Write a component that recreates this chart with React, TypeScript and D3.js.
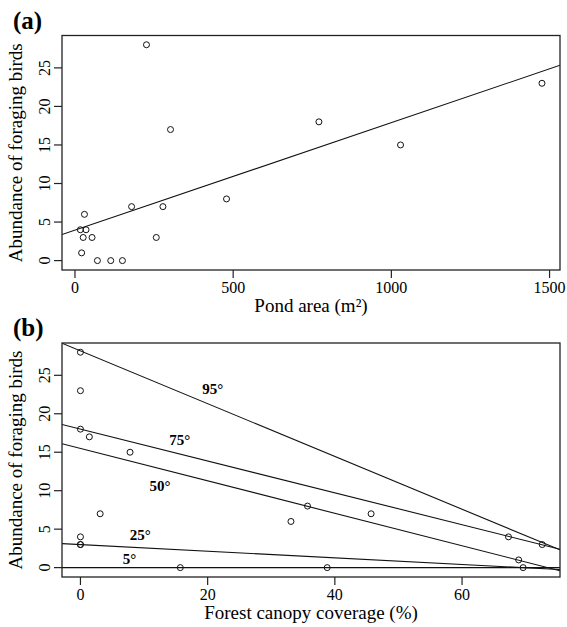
import React from 'react'
import * as d3 from 'd3'

const svgWidth = 567
const svgHeight = 627
const plotLeft = 62
const plotRight = 560
const serif = '"Liberation Serif", "Times New Roman", serif'

// panel (a): pond area vs birds
const pondArea = [226, 1476, 771, 1029, 302, 479, 179, 278, 257, 30, 17, 35, 26, 54, 21, 71, 113, 150]
const birdsA = [28, 23, 18, 15, 17, 8, 7, 7, 3, 6, 4, 4, 3, 3, 1, 0, 0, 0]
const fitIntercept = 3.95
const fitSlope = 0.01395
const xTicksA = [0, 500, 1000, 1500]

// panel (b): canopy coverage vs birds
const canopy = [0, 0, 0, 1.4, 7.8, 3.1, 0, 0, 0, 15.7, 33.1, 35.7, 38.8, 45.7, 67.3, 68.9, 69.6, 72.6]
const birdsB = [28, 23, 18, 17, 15, 7, 4, 3, 3, 0, 6, 8, 0, 7, 4, 1, 0, 3]
const quantNames = ['5°', '25°', '50°', '75°', '95°']
const quantIntercepts = [0, 3.0, 15.5, 18.0, 28.17]
const quantSlopes = [0, -0.0431, -0.211, -0.207, -0.343]
const quantLabelX = [7.7, 9.4, 12.5, 15.6, 20.8]
const quantLabelY = [0.5, 3.55, 9.9, 16.0, 22.6]
const xTicksB = [0, 20, 40, 60]

const yTicks = [0, 5, 10, 15, 20, 25]
const yDomain = [-1.22, 29.2]

type Line = { a: number; b: number }
type Label = { text: string; x: number; y: number }

const Panel = ({ id, letter, top, bottom, xDomain, xTicks, xs, ys, lines, labels, xTitle }: {
	id: string
	letter: string
	top: number
	bottom: number
	xDomain: number[]
	xTicks: number[]
	xs: number[]
	ys: number[]
	lines: Line[]
	labels: Label[]
	xTitle: string
}) => {
	const x = d3.scaleLinear().domain(xDomain).range([plotLeft, plotRight])
	const y = d3.scaleLinear().domain(yDomain).range([bottom, top])
	const line = d3.line<number>().x(d => x(d))
	const midY = (top + bottom) / 2
	return (
		<g>
			<defs>
				<clipPath id={id}>
					<rect x={plotLeft} y={top} width={plotRight - plotLeft} height={bottom - top} />
				</clipPath>
			</defs>
			<text x={13} y={top - 7} fontFamily={serif} fontWeight="bold" fontSize={25}>{letter}</text>
			<g clipPath={`url(#${id})`}>
				{lines.map((l, i) => (
					<path key={i} d={line.y(d => y(l.a + l.b * d))(xDomain) || ''} fill="none" stroke="#111" strokeWidth={1.1} />
				))}
			</g>
			{xs.map((d, i) => (
				<circle key={i} cx={x(d)} cy={y(ys[i])} r={3} fill="none" stroke="#111" strokeWidth={1} />
			))}
			{labels.map((l, i) => (
				<text key={i} x={x(l.x)} y={y(l.y)} textAnchor="middle" fontFamily={serif} fontWeight="bold" fontSize={15}>{l.text}</text>
			))}
			<rect x={plotLeft} y={top} width={plotRight - plotLeft} height={bottom - top} fill="none" stroke="#222" strokeWidth={1.3} />
			{xTicks.map(t => (
				<g key={t}>
					<line x1={x(t)} x2={x(t)} y1={bottom} y2={bottom + 8} stroke="#222" strokeWidth={1.2} />
					<text x={x(t)} y={bottom + 23} textAnchor="middle" fontFamily={serif} fontSize={16}>{t}</text>
				</g>
			))}
			{yTicks.map(t => (
				<g key={t}>
					<line x1={plotLeft - 8} x2={plotLeft} y1={y(t)} y2={y(t)} stroke="#222" strokeWidth={1.2} />
					<text transform={`translate(${plotLeft - 12},${y(t)}) rotate(-90)`} textAnchor="middle" fontFamily={serif} fontSize={16}>{t}</text>
				</g>
			))}
			<text x={(plotLeft + plotRight) / 2} y={bottom + 42} textAnchor="middle" fontFamily={serif} fontSize={19}>{xTitle}</text>
			<text transform={`translate(22,${midY}) rotate(-90)`} textAnchor="middle" fontFamily={serif} fontSize={19}>Abundance of foraging birds</text>
		</g>
	)
}

export default function App() {
	const linesB = quantNames.map((_, i) => ({ a: quantIntercepts[i], b: quantSlopes[i] }))
	const labelsB = quantNames.map((n, i) => ({ text: n, x: quantLabelX[i], y: quantLabelY[i] }))
	return (
		<svg width={svgWidth} height={svgHeight} style={{ position: 'absolute', left: 0, top: 0, background: 'white' }}>
			<Panel id="clipA" letter="(a)" top={35.5} bottom={270} xDomain={[-41, 1533]} xTicks={xTicksA}
				xs={pondArea} ys={birdsA} lines={[{ a: fitIntercept, b: fitSlope }]} labels={[]} xTitle="Pond area (m²)" />
			<Panel id="clipB" letter="(b)" top={343} bottom={577} xDomain={[-2.9, 75.4]} xTicks={xTicksB}
				xs={canopy} ys={birdsB} lines={linesB} labels={labelsB} xTitle="Forest canopy coverage (%)" />
		</svg>
	)
}
